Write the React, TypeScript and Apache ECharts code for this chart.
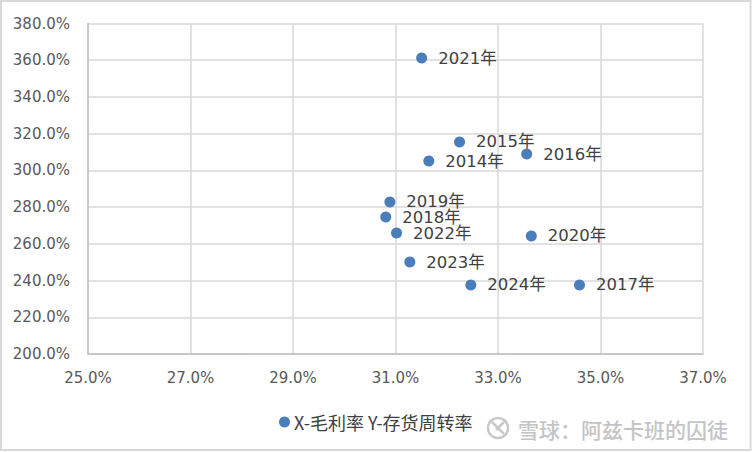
import React, { useEffect, useRef } from "react";
import * as echarts from "echarts";

const years = ["2014年", "2015年", "2016年", "2017年", "2018年", "2019年", "2020年", "2021年", "2022年", "2023年", "2024年"];
const grossMargin = [31.65, 32.25, 33.56, 34.59, 30.81, 30.89, 33.65, 31.51, 31.02, 31.28, 32.47];
const inventoryTurnover = [305.1, 315.5, 308.9, 237.6, 274.6, 282.8, 264.3, 361.2, 265.9, 250.1, 237.6];
const xTicks = [25, 27, 29, 31, 33, 35, 37];
const seriesName = "X-毛利率 Y-存货周转率";
const watermark = "雪球：阿兹卡班的囚徒";

export default function App() {
  const ref = useRef<HTMLDivElement>(null);
  useEffect(() => {
    document.body.style.margin = "0";
    const chart = echarts.init(ref.current!, null, { renderer: "svg" });
    const font = "'DejaVu Sans', 'Noto Sans CJK SC', sans-serif";
    const cjk = "'Noto Sans CJK SC', sans-serif";
    chart.setOption({
      animation: false,
      backgroundColor: "#ffffff",
      textStyle: { fontFamily: font },
      grid: { left: 88, right: 49, top: 23.5, bottom: 98, containLabel: false },
      xAxis: {
        type: "value",
        min: 25,
        max: 37,
        axisLine: { show: true, lineStyle: { color: "#bfbfbf", width: 1.5 } },
        axisTick: { show: false, customValues: xTicks },
        axisLabel: {
          customValues: xTicks,
          margin: 16,
          fontSize: 15,
          color: "#595959",
          fontFamily: font,
          formatter: (v: number) => v.toFixed(1) + "%",
        },
        splitLine: { show: true, lineStyle: { color: "#d9d9d9", width: 1.5 } },
      },
      yAxis: {
        type: "value",
        min: 200,
        max: 380,
        interval: 20,
        axisLine: { show: true, lineStyle: { color: "#bfbfbf", width: 1.5 } },
        axisTick: { show: false },
        axisLabel: {
          margin: 18,
          fontSize: 15,
          color: "#595959",
          fontFamily: font,
          formatter: (v: number) => v.toFixed(1) + "%",
        },
        splitLine: { show: true, lineStyle: { color: "#d9d9d9", width: 1.5 } },
      },
      legend: {
        data: [seriesName],
        left: 274,
        top: 408,
        icon: "circle",
        itemWidth: 11,
        itemHeight: 11,
        itemGap: 4,
        textStyle: { fontSize: 18, color: "#404040", fontFamily: cjk, padding: [0, 0, 0, -1] },
      },
      series: [
        {
          name: seriesName,
          type: "scatter",
          symbolSize: 11,
          itemStyle: { color: "#4a7ebb", opacity: 1 },
          data: years.map((y, i) => ({ name: y, value: [grossMargin[i], inventoryTurnover[i]] })),
          label: {
            show: true,
            position: "right",
            distance: 11,
            fontSize: 16.5,
            color: "#404040",
            fontFamily: font,
            formatter: (p: any) => p.name,
          },
        },
      ],
      graphic: [
        {
          type: "rect",
          shape: { x: 1, y: 1, width: 749.5, height: 449 },
          style: { fill: "none", stroke: "#d9d9d9", lineWidth: 2 },
          silent: true,
        },
        {
          type: "circle",
          shape: { cx: 498, cy: 428, r: 10 },
          style: { fill: "none", stroke: "#c8c8c8", lineWidth: 2.5 },
          silent: true,
        },
        {
          type: "line",
          shape: { x1: 492, y1: 422, x2: 504, y2: 434 },
          style: { stroke: "#c8c8c8", lineWidth: 2.5 },
          silent: true,
        },
        {
          type: "line",
          shape: { x1: 504, y1: 422, x2: 496, y2: 430 },
          style: { stroke: "#c8c8c8", lineWidth: 2.5 },
          silent: true,
        },
        {
          type: "text",
          x: 518,
          y: 429,
          style: {
            text: watermark,
            fontSize: 21,
            fill: "#c4c4c4",
            fontFamily: cjk,
            fontWeight: 500,
            verticalAlign: "middle",
            align: "left",
          },
          silent: true,
        },
      ],
    });
    return () => chart.dispose();
  }, []);
  return <div ref={ref} style={{ width: 752, height: 452 }} />;
}
